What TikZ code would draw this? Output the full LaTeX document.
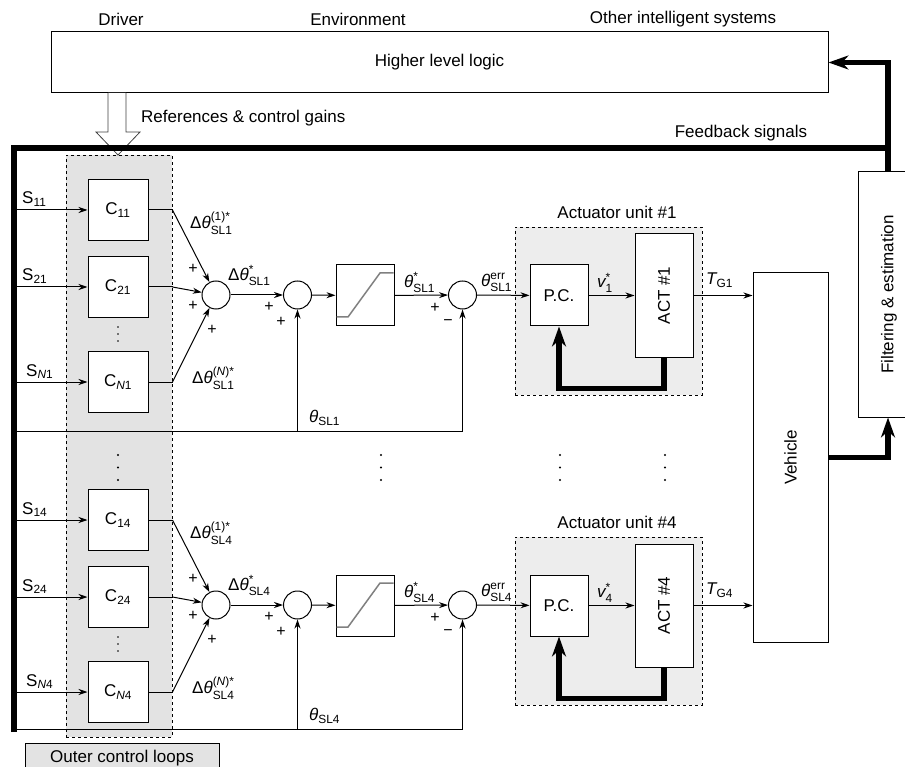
\documentclass[tikz,border=0pt]{standalone}
\usepackage{fontspec}
\setmainfont{Liberation Sans}
\usepackage{amsmath}
\usepackage{graphicx}
\usetikzlibrary{arrows.meta}
\begin{document}
\begin{tikzpicture}[x=1pt,y=-1pt,
  every node/.style={font=\fontsize{17}{20}\selectfont, inner sep=0pt},
  blk/.style={draw, fill=white, line width=1pt},
  sumc/.style={draw, circle, fill=white, minimum size=28pt, line width=1pt},
  sig/.style={line width=1pt, -{Stealth[length=9pt,width=6pt]}},
  ln/.style={line width=1pt},
  bus/.style={line width=5.5pt},
  busar/.style={line width=5.5pt, -{Stealth[length=20pt,width=14pt]}},
  pm/.style={font=\fontsize{16}{18}\selectfont},
  lbl/.style={anchor=west},
  grp/.style={draw, dashed, line width=0.7pt},
]
\clip (0,0) rectangle (905,767);
% top
\node[blk, minimum width=777, minimum height=61] (hll) at (439.5,62.5) {Higher level logic};
\node (drv) at (121,19) {Driver};
\node (env) at (358,19) {Environment};
\node (ois) at (683,19) {Other intelligent systems};
\node[anchor=west] (ref) at (141,118) {References \& control gains};
\node (fbs) at (741,133) {Feedback signals};
% groups
\node[grp, fill=gray!22, minimum width=106, minimum height=582] (col) at (119,446) {};
\node[draw, fill=gray!22, line width=0.8pt, minimum width=194, minimum height=30] (ocl) at (122,758) {Outer control loops};
% reference block arrow
\draw[line width=0.8pt, draw=black!75, fill=white] (108,93) -- (108,132) -- (96,132) -- (118,155) -- (140,132) -- (126,132) -- (126,93);
% vehicle and filter
\node[blk, minimum width=75, minimum height=369] (veh) at (790.5,457.5) {\rotatebox{90}{Vehicle}};
\node[blk, minimum width=62, minimum height=245] (flt) at (889,294.5) {\rotatebox{90}{Filtering \& estimation}};
% buses
\coordinate (tr) at (888,148);
\coordinate (bl) at (14,732);
\draw[busar] (bl) -- (14,148) -- (tr) -- (tr |- hll.east) -- (hll.east);
\draw[bus] (flt.north -| tr) -- (tr);
\draw[busar] (veh.east) -| (flt.south -| tr);
% rows
\foreach \rw/\dy/\fy in {1/0/431, 4/310/729} {
  \node[grp, fill=gray!14, minimum width=187, minimum height=168] (au\rw) at (608.5,{311+\dy}) {};
  \node (aul\rw) at (617,{212+\dy}) {Actuator unit \#\rw};
  \node[blk, minimum width=60, minimum height=61] (ca\rw) at (118,{210+\dy}) {$\text{C}_{\text{1\rw}}$};
  \node[blk, minimum width=60, minimum height=61] (cb\rw) at (118,{287+\dy}) {$\text{C}_{\text{2\rw}}$};
  \node[blk, minimum width=60, minimum height=61] (cn\rw) at (118,{382+\dy}) {$\text{C}_{\textit{N}\text{\rw}}$};
  \coordinate (sa\rw) at (14,{210+\dy});
  \coordinate (sb\rw) at (14,{287+\dy});
  \coordinate (sn\rw) at (14,{382+\dy});
  \draw[sig] (sa\rw) -- (ca\rw);
  \draw[sig] (sb\rw) -- (cb\rw);
  \draw[sig] (sn\rw) -- (cn\rw);
  \node[anchor=base west] (sal\rw) at (22,{204+\dy}) {$\text{S}_{\text{1\rw}}$};
  \node[anchor=base west] (sbl\rw) at (22,{281+\dy}) {$\text{S}_{\text{2\rw}}$};
  \node[anchor=base west] (snl\rw) at (26,{376+\dy}) {$\text{S}_{\textit{N}\text{\rw}}$};
  \fill (118,{327+\dy}) circle (0.9) (118,{334+\dy}) circle (0.9) (118,{341+\dy}) circle (0.9);
  \node[sumc] (s1\rw) at (216,{295+\dy}) {};
  \node[sumc] (s2\rw) at (297.5,{295+\dy}) {};
  \node[blk, minimum width=58, minimum height=61] (sat\rw) at (365,{295.5+\dy}) {};
  \draw[gray, line width=1.5pt] (336.5,{317+\dy}) -- (348,{317+\dy}) -- (380,{273+\dy}) -- (393.5,{273+\dy});
  \node[sumc] (s3\rw) at (462.5,{295+\dy}) {};
  \node[blk, minimum width=58, minimum height=61] (pc\rw) at (559,{295.5+\dy}) {P.C.};
  \node[blk, minimum width=58, minimum height=123] (act\rw) at (664,{295.5+\dy}) {\rotatebox{90}{ACT \#\rw}};
  \draw[ln] (ca\rw.east) -- ++(24,0) coordinate (ja\rw);
  \draw[ln] (cb\rw.east) -- ++(24,0) coordinate (jb\rw);
  \draw[ln] (cn\rw.east) -- ++(24,0) coordinate (jn\rw);
  \draw[sig] (ja\rw) -- (s1\rw);
  \draw[sig] (jb\rw) -- (s1\rw);
  \draw[sig] (jn\rw) -- (s1\rw);
  \draw[sig] (s1\rw) -- (s2\rw);
  \draw[sig] (s2\rw) -- (sat\rw);
  \draw[sig] (sat\rw) -- (s3\rw);
  \draw[sig] (s3\rw) -- (pc\rw);
  \draw[sig] (pc\rw) -- (act\rw);
  \draw[sig] (act\rw.east) -- (act\rw.east -| veh.west);
  \draw[busar] (act\rw.south) -- ++(0,31) -| (pc\rw.south);
  \coordinate (fb\rw) at (14,\fy);
  \draw[ln] (fb\rw) -- (fb\rw -| s3\rw);
  \draw[sig] (fb\rw -| s2\rw) -- (s2\rw.south);
  \draw[sig] (fb\rw -| s3\rw) -- (s3\rw.south);
  \node[pm] (p1a\rw) at (193,{269+\dy}) {+};
  \node[pm] (p1b\rw) at (193,{306+\dy}) {+};
  \node[pm] (p1c\rw) at (212,{330+\dy}) {+};
  \node[pm] (p2a\rw) at (269,{307+\dy}) {+};
  \node[pm] (p2b\rw) at (281,{322+\dy}) {+};
  \node[pm] (p3a\rw) at (435,{308+\dy}) {+};
  \node[pm] (p3b\rw) at (448,{323+\dy}) {−};
  \node[lbl] (l1\rw) at (190,{223+\dy}) {$\text{Δ}\textit{θ}^{\text{(1)*}}_{\text{SL\rw}}$};
  \node[lbl] (l2\rw) at (228,{275+\dy}) {$\text{Δ}\textit{θ}^{\text{*}}_{\text{SL\rw}}$};
  \node[lbl] (l3\rw) at (192,{378+\dy}) {$\text{Δ}\textit{θ}^{\text{(\textit{N})*}}_{\text{SL\rw}}$};
  \node[lbl] (l4\rw) at (404,{282+\dy}) {$\textit{θ}^{\text{*}}_{\text{SL\rw}}$};
  \node[lbl] (l5\rw) at (481,{282+\dy}) {$\textit{θ}^{\text{err}}_{\text{SL\rw}}$};
  \node[lbl] (l6\rw) at (597,{283+\dy}) {$\textit{v}^{\text{*}}_{\text{\rw}}$};
  \node[lbl] (l7\rw) at (706,{280+\dy}) {$\textit{T}_{\text{G\rw}}$};
  \node[lbl] (l8\rw) at (309,{\fy-13}) {$\textit{θ}_{\text{SL\rw}}$};
}
% dots between rows
\foreach \xx in {118,381,560,665} {
  \fill (\xx,455) circle (1.2) (\xx,467.5) circle (1.2) (\xx,480) circle (1.2);
}
\end{tikzpicture}
\end{document}
